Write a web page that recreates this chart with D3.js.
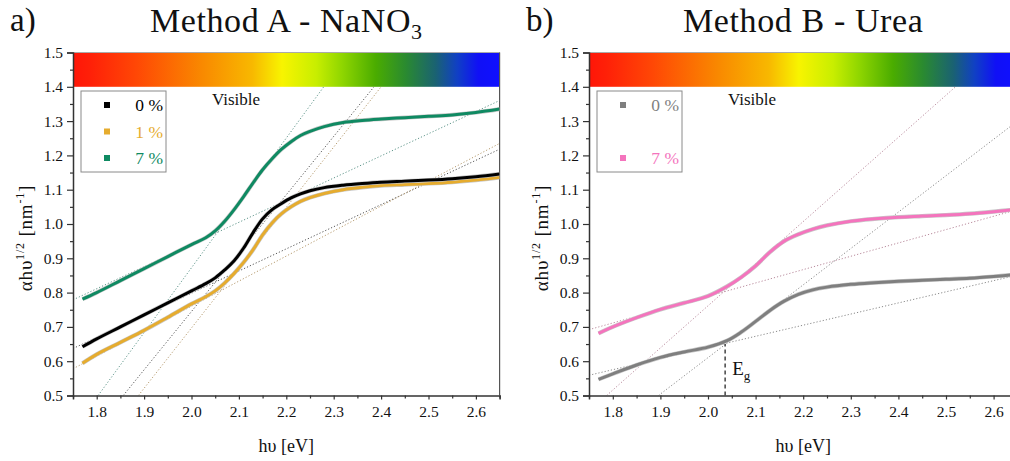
<!DOCTYPE html>
<html>
<head>
<meta charset="utf-8">
<script src="https://cdn.jsdelivr.net/npm/d3@7"></script>
<style>
  body { margin: 0; background: #fff; }
  text { font-family: "Liberation Serif", "Times New Roman", serif; fill: #111; }
</style>
</head>
<body>
<svg id="chart" width="1010" height="461"></svg>
<script>
// Photon energy grid (eV) and Tauc-plot values for Method A (NaNO3)
const energyA = [1.77, 1.80, 1.85, 1.90, 1.95, 2.00, 2.03, 2.05, 2.07, 2.09, 2.11, 2.13, 2.15,
                 2.17, 2.19, 2.21, 2.23, 2.25, 2.28, 2.32, 2.36, 2.40, 2.45, 2.50, 2.55, 2.60, 2.65];
const a0pct = [0.642, 0.665, 0.700, 0.735, 0.770, 0.805, 0.826, 0.843, 0.866, 0.893, 0.930, 0.975, 1.015,
               1.042, 1.060, 1.076, 1.088, 1.097, 1.106, 1.113, 1.118, 1.122, 1.125, 1.128, 1.132, 1.138, 1.146];
const a1pct = [0.594, 0.620, 0.655, 0.690, 0.728, 0.767, 0.788, 0.805, 0.828, 0.856, 0.888, 0.925, 0.968,
               1.003, 1.030, 1.050, 1.066, 1.077, 1.089, 1.100, 1.107, 1.112, 1.115, 1.118, 1.122, 1.128, 1.136];
const a7pct = [0.781, 0.800, 0.835, 0.870, 0.905, 0.940, 0.960, 0.980, 1.008, 1.042, 1.080, 1.120, 1.158,
               1.190, 1.218, 1.240, 1.258, 1.270, 1.284, 1.296, 1.302, 1.306, 1.310, 1.314, 1.318, 1.325, 1.335];

// Method B (Urea)
const energyB = [1.77, 1.80, 1.85, 1.90, 1.95, 2.00, 2.04, 2.07, 2.10, 2.13, 2.16, 2.19,
                 2.22, 2.25, 2.30, 2.35, 2.40, 2.45, 2.50, 2.55, 2.60, 2.65];
const b0pct = [0.547, 0.563, 0.589, 0.611, 0.627, 0.641, 0.660, 0.685, 0.716, 0.748, 0.775, 0.795,
               0.808, 0.816, 0.824, 0.829, 0.833, 0.836, 0.839, 0.842, 0.847, 0.853];
const b7pct = [0.681, 0.700, 0.727, 0.751, 0.770, 0.790, 0.818, 0.845, 0.878, 0.918, 0.950, 0.970,
               0.985, 0.996, 1.008, 1.015, 1.020, 1.023, 1.026, 1.030, 1.036, 1.043];

// Linear fits (start and end points) used for the band-gap extrapolation
const fitsA = [
  { key: "7", p: [[1.75, 0.779], [2.65, 1.360]] },
  { key: "7", p: [[1.803, 0.5], [2.279, 1.4]] },
  { key: "0", p: [[1.856, 0.5], [2.385, 1.4]] },
  { key: "1", p: [[1.888, 0.5], [2.400, 1.4]] },
  { key: "0", p: [[1.75, 0.637], [2.65, 1.218]] },
  { key: "1", p: [[1.75, 0.578], [2.65, 1.235]] }
];
const fitsB = [
  { key: "7", p: [[1.75, 0.692], [2.65, 1.042]] },
  { key: "0", p: [[1.75, 0.559], [2.65, 0.851]] },
  { key: "7", p: [[1.787, 0.5], [2.52, 1.4]] },
  { key: "0", p: [[1.896, 0.5], [2.65, 1.300]] }
];
const bandGapB = { e: 2.036, top: 0.65 };

const xTicks = [1.8, 1.9, 2.0, 2.1, 2.2, 2.3, 2.4, 2.5, 2.6];
const yTicks = [0.5, 0.6, 0.7, 0.8, 0.9, 1.0, 1.1, 1.2, 1.3, 1.4, 1.5];

const colors = { "0A": "#000000", "1A": "#e6ac2e", "7A": "#0f8a62", "0B": "#7f7f7f", "7B": "#f474bd" };
const fitColors = { "0A": "#555555", "1A": "#b59a6e", "7A": "#5f958a", "0B": "#8a8a8a", "7B": "#b88a9c" };

const spectrumStops = [
  [0.00, "#ff1608"], [0.04, "#ff2008"], [0.15, "#ff4805"], [0.30, "#f98800"],
  [0.42, "#f8b800"], [0.49, "#f8f400"], [0.57, "#c8ee00"], [0.63, "#90d600"],
  [0.71, "#4aac00"], [0.78, "#2a8a30"], [0.85, "#1a6272"], [0.90, "#1040c4"],
  [0.95, "#1010f6"], [1.00, "#1010ff"]
];

const svg = d3.select("#chart");
const defs = svg.append("defs");
const grad = defs.append("linearGradient").attr("id", "spectrum")
  .attr("x1", "0%").attr("x2", "100%").attr("y1", "0%").attr("y2", "0%");
spectrumStops.forEach(s => grad.append("stop").attr("offset", s[0]).attr("stop-color", s[1]));

function panel(opt) {
  const x = d3.scaleLinear().domain([1.75, 2.65]).range([opt.x0, opt.x1]);
  const y = d3.scaleLinear().domain([0.5, 1.5]).range([395.5, 52.5]);
  const g = svg.append("g");

  const clipId = "clip" + opt.id;
  defs.append("clipPath").attr("id", clipId).append("rect")
    .attr("x", x(1.75)).attr("y", y(1.4)).attr("width", x(2.65) - x(1.75)).attr("height", y(0.5) - y(1.4));

  // spectrum band between 1.4 and 1.5
  g.append("rect").attr("x", x(1.75)).attr("y", y(1.5))
    .attr("width", x(2.65) - x(1.75)).attr("height", y(1.4) - y(1.5))
    .attr("fill", "url(#spectrum)");
  g.append("line").attr("x1", x(1.75)).attr("x2", x(2.65)).attr("y1", y(1.5)).attr("y2", y(1.5))
    .attr("stroke", "#aaa").attr("stroke-width", 1);
  g.append("line").attr("x1", x(2.65)).attr("x2", x(2.65)).attr("y1", y(1.5)).attr("y2", y(0.5))
    .attr("stroke", "#555").attr("stroke-width", 1.2);

  const plot = g.append("g").attr("clip-path", `url(#${clipId})`);
  const line = d3.line().x(d => x(d[0])).y(d => y(d[1]));

  opt.fits.forEach(f => {
    plot.append("path").attr("d", line(f.p)).attr("fill", "none")
      .attr("stroke", fitColors[f.key + opt.id]).attr("stroke-width", 1)
      .attr("stroke-dasharray", "1.2,2");
  });

  const curve = d3.line().x(d => x(d[0])).y(d => y(d[1])).curve(d3.curveCatmullRom.alpha(0.5));
  opt.series.forEach(s => {
    const pts = opt.energy.map((e, i) => [e, s.values[i]]);
    plot.append("path").attr("d", curve(pts)).attr("fill", "none")
      .attr("stroke", "#c8c8c8").attr("stroke-width", 4.2).attr("stroke-linejoin", "round");
    plot.append("path").attr("d", curve(pts)).attr("fill", "none")
      .attr("stroke", colors[s.key + opt.id]).attr("stroke-width", 3).attr("stroke-linejoin", "round");
  });

  // axes
  g.append("g").attr("transform", `translate(0,${y(0.5)})`)
    .call(d3.axisBottom(x).tickValues(xTicks).tickFormat(d3.format(".1f")).tickSize(4).tickPadding(6));
  g.append("g").attr("transform", `translate(0,${y(0.5)})`)
    .call(d3.axisBottom(x).tickValues(d3.range(1.75, 2.66, 0.1)).tickFormat("").tickSize(3))
    .select(".domain").remove();
  g.append("g").attr("transform", `translate(${x(1.75)},0)`)
    .call(d3.axisLeft(y).tickValues(yTicks).tickFormat(d3.format(".1f")).tickSize(6).tickPadding(4));
  g.append("g").attr("transform", `translate(${x(1.75)},0)`)
    .call(d3.axisLeft(y).tickValues(d3.range(0.55, 1.5, 0.1)).tickFormat("").tickSize(3))
    .select(".domain").remove();
  g.selectAll(".domain").attr("stroke", "#333").attr("stroke-width", 1.5);
  g.selectAll(".tick line").attr("stroke", "#333").attr("stroke-width", 1.2);
  g.selectAll(".tick text").style("font-family", "'Liberation Serif', serif").style("font-size", "15.5px").attr("fill", "#222");

  // axis titles
  const cx = (x(1.75) + x(2.65)) / 2;
  g.append("text").attr("x", cx).attr("y", 452).attr("text-anchor", "middle")
    .style("font-size", "18px").text("hυ [eV]");
  const yl = g.append("text").attr("transform", `translate(${opt.x0 - 41},238) rotate(-90)`)
    .attr("text-anchor", "middle").style("font-size", "19px").style("letter-spacing", "0.8px");
  yl.append("tspan").text("αhυ");
  yl.append("tspan").attr("dy", -8).style("font-size", "12px").text("1/2");
  yl.append("tspan").attr("dy", 8).text(" [nm");
  yl.append("tspan").attr("dy", -8).style("font-size", "12px").text("-1");
  yl.append("tspan").attr("dy", 8).text("]");

  // panel title
  const t = g.append("text").attr("x", cx).attr("y", 32).attr("text-anchor", "middle")
    .style("font-size", "34px").style("letter-spacing", "0.6px");
  opt.title.forEach(p => {
    const ts = t.append("tspan").text(p.t);
    if (p.sub) ts.attr("dy", 7).style("font-size", "22px");
  });
  g.append("text").attr("x", opt.x0 - 63).attr("y", 31).style("font-size", "33px").text(opt.letter);

  g.append("text").attr("x", x(1.75) + 139).attr("y", 105).style("font-size", "17px").text("Visible");

  // legend
  const lx = x(1.75) + 8, ly = 91;
  g.append("rect").attr("x", lx).attr("y", ly).attr("width", 85).attr("height", 81)
    .attr("fill", "#fff").attr("stroke", "#8a8a8a").attr("stroke-width", 1);
  opt.legend.forEach(l => {
    const yy = 105 + l.row * 26.5;
    const c = colors[l.key + opt.id];
    g.append("rect").attr("x", lx + 23).attr("y", yy - 3).attr("width", 6).attr("height", 6).attr("fill", c);
    g.append("text").attr("x", lx + 82).attr("y", yy + 6).attr("text-anchor", "end")
      .style("font-size", "17.5px").style("fill", c).text(l.key + " %");
  });

  return { g, x, y };
}

panel({
  id: "A", x0: 73, x1: 499.6, letter: "a)",
  title: [{ t: "Method A - NaNO" }, { t: "3", sub: true }],
  energy: energyA,
  series: [{ key: "7", values: a7pct }, { key: "1", values: a1pct }, { key: "0", values: a0pct }],
  fits: fitsA,
  legend: [{ key: "0", row: 0 }, { key: "1", row: 1 }, { key: "7", row: 2 }]
});

const pB = panel({
  id: "B", x0: 589, x1: 1017.4, letter: "b)",
  title: [{ t: "Method B - Urea" }],
  energy: energyB,
  series: [{ key: "7", values: b7pct }, { key: "0", values: b0pct }],
  fits: fitsB,
  legend: [{ key: "0", row: 0 }, { key: "7", row: 2 }]
});

// band-gap marker
pB.g.append("line").attr("x1", pB.x(bandGapB.e)).attr("x2", pB.x(bandGapB.e))
  .attr("y1", pB.y(0.5)).attr("y2", pB.y(bandGapB.top))
  .attr("stroke", "#444").attr("stroke-width", 1.5).attr("stroke-dasharray", "4,3");
const eg = pB.g.append("text").attr("x", pB.x(bandGapB.e) + 7).attr("y", 375).style("font-size", "19px");
eg.append("tspan").text("E");
eg.append("tspan").attr("dy", 5).style("font-size", "13px").text("g");
</script>
</body>
</html>
